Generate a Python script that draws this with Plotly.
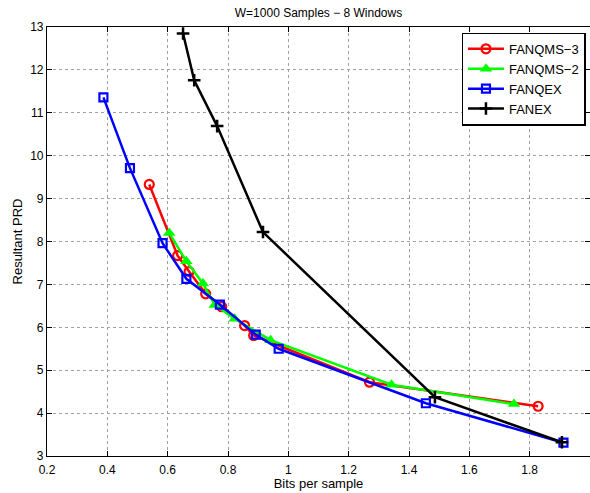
import plotly.graph_objects as go

# Data
fanqms3_x = [0.539, 0.633, 0.671, 0.726, 0.779, 0.855, 0.885, 1.269, 1.828]
fanqms3_y = [9.33, 7.67, 7.30, 6.78, 6.48, 6.04, 5.81, 4.72, 4.16]

fanqms2_x = [0.605, 0.662, 0.717, 0.756, 0.822, 0.941, 1.342, 1.748]
fanqms2_y = [8.20, 7.54, 7.02, 6.52, 6.20, 5.70, 4.66, 4.21]

fanqex_x = [0.387, 0.475, 0.583, 0.662, 0.773, 0.892, 0.968, 1.456, 1.912]
fanqex_y = [11.36, 9.71, 7.96, 7.13, 6.53, 5.83, 5.50, 4.23, 3.31]

fanex_x = [0.651, 0.688, 0.764, 0.916, 1.486, 1.907]
fanex_y = [12.85, 11.76, 10.69, 8.22, 4.37, 3.32]

x_ticks = [0.2, 0.4, 0.6, 0.8, 1.0, 1.2, 1.4, 1.6, 1.8, 2.0]
y_ticks = [3, 4, 5, 6, 7, 8, 9, 10, 11, 12, 13]

FONT = "Liberation Sans, Arial, sans-serif"

fig = go.Figure()
fig.add_trace(go.Scatter(
    x=fanqms3_x, y=fanqms3_y, name="FANQMS\u22123", mode="lines+markers",
    line=dict(color="#ff0000", width=2.5),
    marker=dict(symbol="circle-open", size=9, color="#ff0000", line=dict(width=2.2))))
fig.add_trace(go.Scatter(
    x=fanqms2_x, y=fanqms2_y, name="FANQMS\u22122", mode="lines+markers",
    line=dict(color="#00ff00", width=2.5),
    marker=dict(symbol="triangle-up", size=11, color="#00ff00")))
fig.add_trace(go.Scatter(
    x=fanqex_x, y=fanqex_y, name="FANQEX", mode="lines+markers",
    line=dict(color="#0000ff", width=2.5),
    marker=dict(symbol="square-open", size=8, color="#0000ff", line=dict(width=2.2))))
fig.add_trace(go.Scatter(
    x=fanex_x, y=fanex_y, name="FANEX", mode="lines+markers",
    line=dict(color="#000000", width=2.5),
    marker=dict(symbol="cross-thin-open", size=9, color="#000000", line=dict(width=2.5, color="#000000"))))

axis_common = dict(
    showline=True, linecolor="black", linewidth=1.2, mirror="allticks",
    ticks="inside", ticklen=5, tickcolor="black", tickwidth=1,
    showgrid=True, gridcolor="#a0a0a0", griddash="dot", gridwidth=1,
    zeroline=False, automargin=False,
    tickfont=dict(family=FONT, size=12, color="black"),
)

fig.update_xaxes(range=[0.2, 2.0], tickvals=x_ticks,
                 ticktext=[("%g" % v) for v in x_ticks],
                 ticklabelstandoff=2,
                 title=dict(text="Bits per sample", font=dict(family=FONT, size=13, color="black"), standoff=1),
                 **axis_common)
fig.update_yaxes(range=[3, 13], tickvals=y_ticks,
                 title=dict(text="Resultant PRD", font=dict(family=FONT, size=13, color="black"), standoff=4),
                 **axis_common)

fig.update_layout(
    width=590, height=493,
    margin=dict(l=47, r=0, t=27, b=37, autoexpand=False),
    paper_bgcolor="white", plot_bgcolor="white",
    title=dict(text="W=1000 Samples \u2212 8 Windows", x=0.5, xref="paper", xanchor="center",
               y=0.975, yanchor="middle",
               font=dict(family=FONT, size=12, color="black")),
    legend=dict(x=0.992, y=0.987, xanchor="right", yanchor="top",
                bgcolor="white", bordercolor="black", borderwidth=1.3,
                font=dict(family=FONT, size=13, color="black"),
                tracegroupgap=0, itemwidth=36),
    showlegend=True,
)

fig.write_html("out.html", config={"displayModeBar": False},
               post_script="document.body.style.margin='0';document.body.style.padding='0';")
